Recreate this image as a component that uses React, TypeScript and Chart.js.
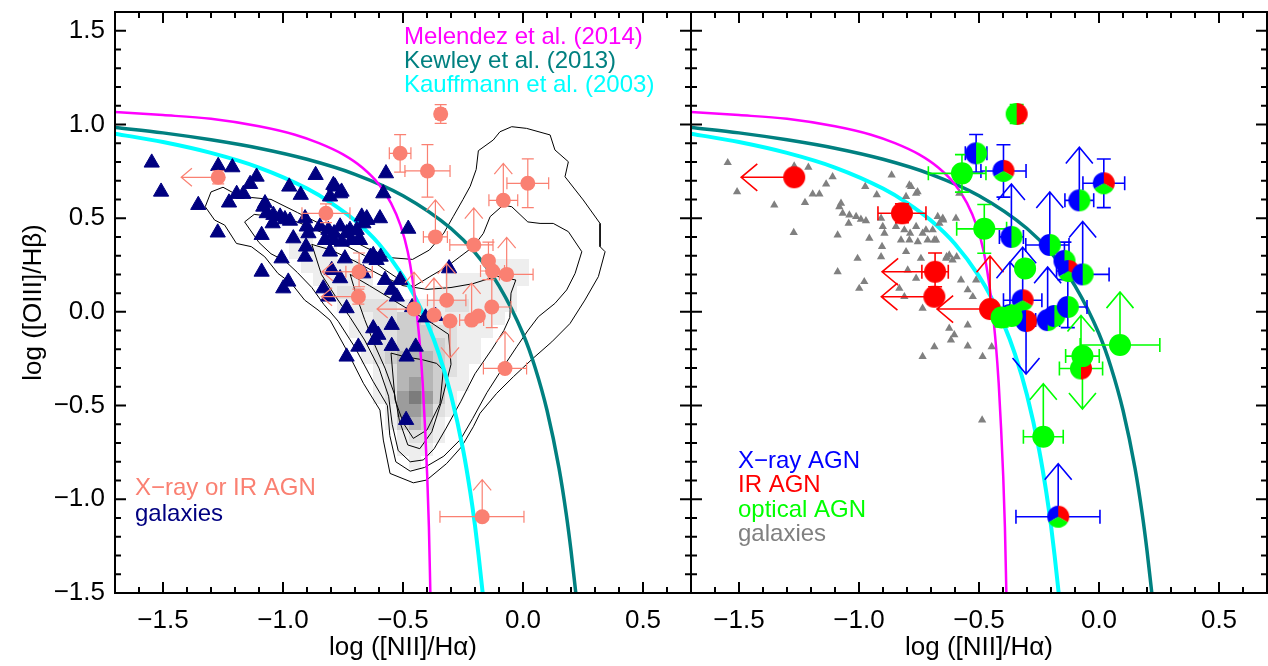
import { useEffect, useRef } from "react";
import { Chart, registerables } from "chart.js";

Chart.register(...registerables);

const FONT = "'Liberation Sans', Arial, Helvetica, sans-serif";

type Pt = [number, number];

// ---------- axes ----------
const X_MIN = -1.7;
const X_MAX = 0.7;
const Y_MIN = -1.5;
const Y_MAX = 1.6;
const xTickValues = [-1.5, -1.0, -0.5, 0.0, 0.5];
const yTickValues = [-1.5, -1.0, -0.5, 0.0, 0.5, 1.0, 1.5];

// ---------- demarcation curves ----------
const melendez: Pt[] = [
  [-1.7, 1.066], [-1.5, 1.05], [-1.3, 1.03], [-1.1, 0.99], [-0.95, 0.945], [-0.85, 0.9],
  [-0.75, 0.84], [-0.67, 0.77], [-0.6, 0.68], [-0.55, 0.58], [-0.51, 0.46], [-0.48, 0.32],
  [-0.46, 0.17], [-0.445, 0.02], [-0.43, -0.17], [-0.418, -0.38], [-0.408, -0.62],
  [-0.399, -0.88], [-0.392, -1.15], [-0.386, -1.5],
];
const kewley: Pt[] = [
  [-1.7, 0.984], [-1.5, 0.955], [-1.3, 0.918], [-1.1, 0.873], [-0.9, 0.814], [-0.7, 0.734],
  [-0.5, 0.62], [-0.3, 0.445], [-0.2, 0.316], [-0.1, 0.139], [0.0, -0.117], [0.05, -0.295],
  [0.1, -0.525], [0.15, -0.834], [0.18, -1.077], [0.2, -1.273], [0.22, -1.5],
];
const kauffmann: Pt[] = [
  [-1.7, 0.951], [-1.5, 0.906], [-1.3, 0.848], [-1.1, 0.77], [-0.9, 0.658], [-0.8, 0.582],
  [-0.7, 0.487], [-0.6, 0.362], [-0.5, 0.191], [-0.45, 0.08], [-0.4, -0.056], [-0.35, -0.225],
  [-0.3, -0.443], [-0.25, -0.733], [-0.22, -0.959], [-0.2, -1.14], [-0.185, -1.3], [-0.168, -1.5],
];

// ---------- galaxies ----------
const galaxies: Pt[] = [
  [-1.547, 0.796], [-1.508, 0.641], [-1.353, 0.57], [-1.272, 0.423], [-1.27, 0.778], [-1.211, 0.771],
  [-1.225, 0.583], [-1.193, 0.629], [-1.165, 0.629], [-1.137, 0.682], [-1.11, 0.721], [-1.089, 0.41],
  [-1.089, 0.214], [-1.082, 0.561], [-1.075, 0.579], [-1.068, 0.526], [-1.04, 0.517], [-1.043, 0.472],
  [-1.012, 0.508], [-0.992, 0.494], [-0.971, 0.486], [-1.006, 0.285], [-0.999, 0.125], [-0.978, 0.161],
  [-0.974, 0.668], [-0.957, 0.392], [-0.926, 0.624], [-0.908, 0.499], [-0.904, 0.348], [-0.908, 0.294],
  [-0.894, 0.419], [-0.901, 0.455], [-0.864, 0.73], [-0.846, 0.455], [-0.832, 0.125], [-0.811, 0.081],
  [-0.825, 0.383], [-0.811, 0.437], [-0.804, 0.615], [-0.79, 0.677], [-0.804, 0.321], [-0.79, 0.383],
  [-0.787, 0.419], [-0.762, 0.632], [-0.762, 0.455], [-0.755, 0.374], [-0.735, 0.419], [-0.742, 0.285],
  [-0.735, 0.019], [-0.714, 0.383], [-0.693, 0.437], [-0.686, 0.383], [-0.672, 0.508], [-0.651, 0.499],
  [-0.665, 0.472], [-0.637, 0.285], [-0.624, 0.303], [-0.61, 0.276], [-0.596, 0.499], [-0.593, 0.294],
  [-0.575, 0.17], [-0.547, 0.117], [-0.526, 0.081], [-0.624, -0.088], [-0.603, -0.123], [-0.617, -0.15],
  [-0.547, -0.07], [-0.547, -0.182], [-0.686, -0.186], [-0.735, -0.239], [-0.485, -0.239], [-0.762, 0.179],
  [-0.797, 0.223], [-0.512, 0.17], [-0.582, 0.632], [-0.447, -0.186], [-0.487, -0.577], [-0.649, 0.49],
  [-0.635, 0.294], [-0.462, 0.025], [-0.783, 0.668], [-0.756, 0.641], [-0.721, 0.437], [-0.679, 0.383],
  [-0.665, 0.205], [-0.571, 0.739], [-0.478, 0.443], [-0.308, 0.232], [-0.406, -0.03], [-0.364, -0.022],
];

// ---------- X-ray / IR AGN ----------
const agnX = [-1.27, -0.821, -0.683, -0.686, -0.454, -0.343, -0.512, -0.398, 0.02, -0.082, -0.365, -0.205, -0.144, -0.127, -0.068, -0.318, -0.371, -0.304, -0.214, -0.186, -0.13, -0.075, -0.17];
const agnY = [0.718, 0.526, 0.214, 0.081, 0.015, 1.056, 0.846, 0.752, 0.686, 0.595, 0.4, 0.357, 0.272, 0.218, 0.2, 0.062, -0.017, -0.049, -0.044, -0.022, 0.026, -0.302, -1.093];
const agnExLo = [0, 0.1, 0.055, 0, 0, 0.02, 0.045, 0.094, 0.087, 0.06, 0.05, 0.1, 0, 0.05, 0.03, 0.08, 0, 0, 0.05, 0, 0, 0.09, 0.176];
const agnExHi = [0, 0.1, 0.055, 0, 0, 0.02, 0.045, 0.094, 0.087, 0.06, 0.05, 0.08, 0, 0.05, 0.11, 0.08, 0, 0, 0.05, 0, 0.08, 0.09, 0.174];
const agnEyLo = [0.035, 0.05, 0.08, 0.04, 0, 0.05, 0.1, 0.14, 0.13, 0, 0, 0, 0.1, 0, 0, 0, 0, 0, 0, 0, 0.11, 0, 0];
const agnEyHi = [0.035, 0.05, 0.1, 0.04, 0, 0.05, 0.1, 0.14, 0.13, 0, 0, 0, 0.1, 0, 0, 0, 0, 0, 0, 0, 0.19, 0, 0];
const agnLimit = ["L", "", "L", "L", "LU", "", "", "", "", "U", "U", "U", "", "", "U", "U", "U", "D", "U", "", "", "U", "U"];
const agnClass = ["R", "R", "R", "R", "R", "GR", "XG", "XRG", "XRG", "XG", "XG", "XG", "XG", "XRG", "XG", "XRG", "XG", "XR", "XG", "XG", "XG", "RG", "XRG"];

// ---------- optical-only AGN ----------
const optX = [-0.571, -0.478, -0.308, -0.406, -0.364, 0.0875, -0.069, -0.232];
const optY = [0.739, 0.443, 0.232, -0.03, -0.022, -0.177, -0.236, -0.666];
const optExLo = [0.14, 0.115, 0, 0, 0, 0.166, 0.07, 0.083];
const optExHi = [0.1, 0.093, 0, 0, 0, 0.166, 0.07, 0.083];
const optEyLo = [0.1, 0.13, 0, 0.05, 0, 0, 0, 0];
const optEyHi = [0.1, 0.13, 0, 0.05, 0, 0, 0, 0];
const optLimit = ["", "", "", "", "", "U", "D", "U"];

// ---------- SDSS density contours ----------
const contour1: Pt[] = [
  [-1.324, 0.561], [-1.3, 0.64], [-1.25, 0.665], [-1.2, 0.63], [-1.13, 0.61], [-1.05, 0.6], [-0.94, 0.53],
  [-0.83, 0.46], [-0.74, 0.4], [-0.65, 0.34], [-0.56, 0.29], [-0.46, 0.28], [-0.39, 0.33], [-0.33, 0.42],
  [-0.29, 0.51], [-0.25, 0.6], [-0.22, 0.67], [-0.195, 0.76], [-0.186, 0.86], [-0.124, 0.917], [-0.096, 0.961],
  [-0.047, 0.988], [0.015, 0.979], [0.113, 0.944], [0.133, 0.864], [0.189, 0.801], [0.175, 0.721],
  [0.251, 0.597], [0.321, 0.472], [0.321, 0.348], [0.342, 0.321], [0.314, 0.188], [0.258, 0.063],
  [0.196, -0.062], [0.12, -0.16], [0.04, -0.25], [-0.04, -0.346], [-0.11, -0.435], [-0.179, -0.541],
  [-0.207, -0.613], [-0.256, -0.72], [-0.318, -0.809], [-0.401, -0.897], [-0.457, -0.912], [-0.554, -0.862],
  [-0.582, -0.684], [-0.596, -0.524], [-0.665, -0.381], [-0.735, -0.204], [-0.804, -0.044], [-0.854, 0.01],
  [-0.91, 0.063], [-0.965, 0.152], [-1.021, 0.205], [-1.076, 0.294], [-1.132, 0.348], [-1.194, 0.365],
  [-1.243, 0.463], [-1.285, 0.49], [-1.324, 0.561],
];
const contour2: Pt[] = [
  [-1.16, 0.48], [-1.12, 0.52], [-1.05, 0.51], [-0.94, 0.48], [-0.85, 0.43], [-0.76, 0.37], [-0.66, 0.3],
  [-0.57, 0.22], [-0.5, 0.16], [-0.457, 0.134], [-0.388, 0.188], [-0.318, 0.241], [-0.263, 0.294],
  [-0.207, 0.348], [-0.165, 0.419], [-0.137, 0.508], [-0.082, 0.57], [-0.047, 0.561], [0.02, 0.48],
  [0.071, 0.472], [0.126, 0.472], [0.189, 0.428], [0.245, 0.321], [0.217, 0.205], [0.182, 0.117],
  [0.133, 0.045], [0.064, -0.026], [0.022, -0.097], [-0.026, -0.186], [-0.08, -0.29], [-0.15, -0.43],
  [-0.21, -0.57], [-0.26, -0.68], [-0.33, -0.77], [-0.41, -0.83], [-0.47, -0.85], [-0.53, -0.8],
  [-0.555, -0.66], [-0.565, -0.5], [-0.625, -0.37], [-0.7, -0.19], [-0.77, -0.05], [-0.83, 0.04],
  [-0.88, 0.13], [-0.94, 0.21], [-0.99, 0.27], [-1.05, 0.31], [-1.1, 0.37], [-1.16, 0.48],
];
const contour3: Pt[] = [
  [-0.88, 0.36], [-0.8, 0.33], [-0.7, 0.27], [-0.6, 0.2], [-0.5, 0.14], [-0.4, 0.12], [-0.3, 0.13],
  [-0.21, 0.15], [-0.11, 0.19], [-0.03, 0.17], [-0.05, 0.1], [-0.055, -0.03], [-0.08, -0.1], [-0.13, -0.2],
  [-0.2, -0.33], [-0.26, -0.48], [-0.32, -0.62], [-0.37, -0.73], [-0.415, -0.79], [-0.47, -0.8],
  [-0.52, -0.74], [-0.545, -0.6], [-0.56, -0.45], [-0.6, -0.3], [-0.66, -0.15], [-0.72, -0.03],
  [-0.78, 0.08], [-0.84, 0.2], [-0.88, 0.36],
];
const contour4: Pt[] = [
  [-0.72, 0.2], [-0.64, 0.14], [-0.55, 0.07], [-0.46, 0.0], [-0.38, -0.06], [-0.31, -0.12], [-0.3, -0.28],
  [-0.34, -0.48], [-0.38, -0.64], [-0.43, -0.73], [-0.48, -0.71], [-0.515, -0.58], [-0.535, -0.44],
  [-0.575, -0.3], [-0.62, -0.17], [-0.66, -0.04], [-0.69, 0.07], [-0.72, 0.2],
];
const contour5: Pt[] = [
  [-0.55, -0.22], [-0.49, -0.24], [-0.42, -0.255], [-0.36, -0.275], [-0.332, -0.31], [-0.346, -0.49],
  [-0.4, -0.63], [-0.457, -0.675], [-0.498, -0.595], [-0.533, -0.47], [-0.55, -0.22],
];

// ---------- SDSS 2D histogram (bin centres, levels 0-6) ----------
const histX = [-1.0, -0.95, -0.9, -0.85, -0.8, -0.75, -0.7, -0.65, -0.6, -0.55, -0.5, -0.45, -0.4, -0.35, -0.3, -0.25, -0.2, -0.15, -0.1, -0.05, 0.0, 0.05];
const histY = [0.385, 0.315, 0.245, 0.175, 0.105, 0.035, -0.035, -0.105, -0.175, -0.245, -0.315, -0.385, -0.455, -0.525, -0.595, -0.665, -0.735, -0.805];
const histLevels = [
  "0110000000000000000000",
  "0111100000000000000000",
  "0011111000000000001110",
  "0001111100000011111110",
  "0000122111000111111100",
  "0000011222111122111100",
  "0000001122332111111000",
  "0000001122333221110000",
  "0000000122333321100000",
  "0000000123444321100000",
  "0000000012444321000000",
  "0000000012454311000000",
  "0000000012565310000000",
  "0000000001554210000000",
  "0000000001343100000000",
  "0000000000122100000000",
  "0000000000111000000000",
  "0000000000010000000000",
];
const HIST_DX = 0.05;
const HIST_DY = 0.07;
const HIST_COLORS = ["", "#eeeeee", "#e0e0e0", "#cecece", "#b6b6b6", "#9c9c9c", "#7c7c7c"];

// ---------- colours ----------
const SALMON = "#FA8072";
const NAVY = "#000080";
const MAGENTA = "#FF00FF";
const TEAL = "#008080";
const CYAN = "#00FFFF";
const BLUE = "#0000FF";
const RED = "#FF0000";
const GREEN = "#00FF00";
const GREY = "#808080";

const toXY = (a: Pt[]) => a.map(([x, y]) => ({ x, y }));
const zipXY = (xs: number[], ys: number[]) => xs.map((x, i) => ({ x, y: ys[i] }));

function fmt(v: number): string {
  const a = Math.abs(v) < 1e-9 ? 0 : v;
  return a.toFixed(1).replace("-", "\u2212");
}

function lineDs(data: Pt[], color: string, width: number, smooth: boolean) {
  return {
    data: toXY(data),
    showLine: true,
    borderColor: color,
    backgroundColor: color,
    borderWidth: width,
    pointRadius: 0,
    fill: false,
    tension: 0,
    cubicInterpolationMode: smooth ? "monotone" : "default",
  };
}

function curveSets() {
  return [lineDs(melendez, MAGENTA, 2.5, true), lineDs(kewley, TEAL, 3.5, true), lineDs(kauffmann, CYAN, 4, true)];
}

const zeroPad = (s: any) => {
  s.paddingTop = 0;
  s.paddingBottom = 0;
  s.paddingLeft = 0;
  s.paddingRight = 0;
};

function buildScales(showY: boolean) {
  const tickFont = { size: 26, family: FONT };
  const x: any = {
    type: "linear",
    min: X_MIN,
    max: X_MAX,
    grid: { display: false, drawTicks: false },
    border: { display: false },
    afterBuildTicks: (s: any) => {
      s.ticks = xTickValues.map((v) => ({ value: v }));
    },
    afterFit: (s: any) => {
      s.height = 73;
      zeroPad(s);
    },
    ticks: { autoSkip: false, maxRotation: 0, padding: 12, color: "#000", font: tickFont, callback: (v: any) => fmt(Number(v)) },
    title: { display: true, text: "log ([NII]/H\u03b1)", color: "#000", font: tickFont, padding: { top: 0, bottom: 3 } },
  };
  const y: any = showY
    ? {
        type: "linear",
        min: Y_MIN,
        max: Y_MAX,
        grid: { display: false, drawTicks: false },
        border: { display: false },
        afterBuildTicks: (s: any) => {
          s.ticks = yTickValues.map((v) => ({ value: v }));
        },
        afterFit: (s: any) => {
          s.width = 115;
          zeroPad(s);
        },
        ticks: { autoSkip: false, padding: 10, color: "#000", font: tickFont, callback: (v: any) => fmt(Number(v)) },
        title: { display: true, text: "log ([OIII]/H\u03b2)", color: "#000", font: tickFont, padding: { top: 18, bottom: 0 } },
      }
    : { type: "linear", min: Y_MIN, max: Y_MAX, display: false, afterFit: zeroPad };
  return { x, y };
}

const framePlugin = {
  id: "frame",
  afterDraw(chart: any) {
    const { ctx, chartArea, scales } = chart;
    const { left, right, top, bottom } = chartArea;
    const xs = scales.x;
    const ys = scales.y;
    ctx.save();
    ctx.strokeStyle = "#000";
    ctx.lineWidth = 2;
    ctx.beginPath();
    for (let i = -17; i <= 7; i++) {
      const px = xs.getPixelForValue(i / 10);
      const len = i % 5 === 0 ? 11 : 6;
      ctx.moveTo(px, bottom);
      ctx.lineTo(px, bottom - len);
      ctx.moveTo(px, top);
      ctx.lineTo(px, top + len);
    }
    for (let i = -15; i <= 16; i++) {
      const py = ys.getPixelForValue(i / 10);
      const len = i % 5 === 0 ? 11 : 6;
      ctx.moveTo(left, py);
      ctx.lineTo(left + len, py);
      ctx.moveTo(right, py);
      ctx.lineTo(right - len, py);
    }
    ctx.stroke();
    ctx.strokeRect(left, top, right - left, bottom - top);
    ctx.restore();
  },
};

const histPlugin = {
  id: "hist",
  beforeDatasetsDraw(chart: any) {
    const { ctx, chartArea, scales } = chart;
    const xs = scales.x;
    const ys = scales.y;
    ctx.save();
    ctx.beginPath();
    ctx.rect(chartArea.left, chartArea.top, chartArea.right - chartArea.left, chartArea.bottom - chartArea.top);
    ctx.clip();
    histLevels.forEach((row, r) => {
      for (let c = 0; c < row.length; c++) {
        const lvl = Number(row[c]);
        if (!lvl) continue;
        const x0 = Math.round(xs.getPixelForValue(histX[c] - HIST_DX / 2));
        const x1 = Math.round(xs.getPixelForValue(histX[c] + HIST_DX / 2));
        const y0 = Math.round(ys.getPixelForValue(histY[r] + HIST_DY / 2));
        const y1 = Math.round(ys.getPixelForValue(histY[r] - HIST_DY / 2));
        ctx.fillStyle = HIST_COLORS[lvl];
        ctx.fillRect(x0, y0, x1 - x0, y1 - y0);
      }
    });
    ctx.restore();
  },
};

type ErrSet = {
  x: number[];
  y: number[];
  exLo: number[];
  exHi: number[];
  eyLo: number[];
  eyHi: number[];
  lim: string[];
  color: (i: number) => string;
};

type ErrStyle = { lw: number; cap: number; len: number; head: number };

function drawArrow(ctx: CanvasRenderingContext2D, px: number, py: number, dir: string, st: ErrStyle) {
  const a = (40 * Math.PI) / 180;
  const hx = st.head * Math.cos(a);
  const hy = st.head * Math.sin(a);
  ctx.beginPath();
  if (dir === "L") {
    const tx = px - st.len;
    ctx.moveTo(px, py);
    ctx.lineTo(tx, py);
    ctx.moveTo(tx + hx, py - hy);
    ctx.lineTo(tx, py);
    ctx.lineTo(tx + hx, py + hy);
  } else if (dir === "U") {
    const ty = py - st.len;
    ctx.moveTo(px, py);
    ctx.lineTo(px, ty);
    ctx.moveTo(px - hy, ty + hx);
    ctx.lineTo(px, ty);
    ctx.lineTo(px + hy, ty + hx);
  } else if (dir === "D") {
    const ty = py + st.len;
    ctx.moveTo(px, py);
    ctx.lineTo(px, ty);
    ctx.moveTo(px - hy, ty - hx);
    ctx.lineTo(px, ty);
    ctx.lineTo(px + hy, ty - hx);
  }
  ctx.stroke();
}

function errorPlugin(afterIndex: number, sets: ErrSet[], st: ErrStyle) {
  return {
    id: "errs",
    afterDatasetDraw(chart: any, args: any) {
      if (args.index !== afterIndex) return;
      const { ctx, chartArea, scales } = chart;
      const xs = scales.x;
      const ys = scales.y;
      ctx.save();
      ctx.beginPath();
      ctx.rect(chartArea.left, chartArea.top, chartArea.right - chartArea.left, chartArea.bottom - chartArea.top);
      ctx.clip();
      ctx.lineWidth = st.lw;
      for (const s of sets) {
        for (let i = 0; i < s.x.length; i++) {
          const px = xs.getPixelForValue(s.x[i]);
          const py = ys.getPixelForValue(s.y[i]);
          ctx.strokeStyle = s.color(i);
          ctx.beginPath();
          if (s.exLo[i] || s.exHi[i]) {
            const x0 = xs.getPixelForValue(s.x[i] - s.exLo[i]);
            const x1 = xs.getPixelForValue(s.x[i] + s.exHi[i]);
            ctx.moveTo(x0, py);
            ctx.lineTo(x1, py);
            if (s.exLo[i]) {
              ctx.moveTo(x0, py - st.cap);
              ctx.lineTo(x0, py + st.cap);
            }
            if (s.exHi[i]) {
              ctx.moveTo(x1, py - st.cap);
              ctx.lineTo(x1, py + st.cap);
            }
          }
          if (s.eyLo[i] || s.eyHi[i]) {
            const y0 = ys.getPixelForValue(s.y[i] - s.eyLo[i]);
            const y1 = ys.getPixelForValue(s.y[i] + s.eyHi[i]);
            ctx.moveTo(px, y0);
            ctx.lineTo(px, y1);
            if (s.eyLo[i]) {
              ctx.moveTo(px - st.cap, y0);
              ctx.lineTo(px + st.cap, y0);
            }
            if (s.eyHi[i]) {
              ctx.moveTo(px - st.cap, y1);
              ctx.lineTo(px + st.cap, y1);
            }
          }
          ctx.stroke();
          for (const d of s.lim[i]) drawArrow(ctx, px, py, d, st);
        }
      }
      ctx.restore();
    },
  };
}

type TextItem = { t: string; c: string; x: number; y: number };

function textPlugin(items: TextItem[], size: number) {
  return {
    id: "texts",
    afterDraw(chart: any) {
      const ctx = chart.ctx;
      ctx.save();
      ctx.font = `${size}px ${FONT}`;
      ctx.textAlign = "left";
      ctx.textBaseline = "middle";
      for (const it of items) {
        ctx.fillStyle = it.c;
        ctx.fillText(it.t, it.x, it.y);
      }
      ctx.restore();
    },
  };
}

function classColors(cls: string): string[] {
  const out: string[] = [];
  if (cls.includes("X")) out.push(BLUE);
  if (cls.length === 3) {
    out.push(RED, GREEN);
    return out;
  }
  if (cls.includes("G")) out.push(GREEN);
  if (cls.includes("R")) out.push(RED);
  return out;
}

function errColor(cls: string): string {
  if (cls.includes("X")) return BLUE;
  if (cls.includes("G")) return GREEN;
  return RED;
}

function pieImage(cls: string, r: number): HTMLCanvasElement {
  const size = Math.ceil(r * 2 + 2);
  const cv = document.createElement("canvas");
  cv.width = size;
  cv.height = size;
  const g = cv.getContext("2d")!;
  const c = size / 2;
  const cols = classColors(cls);
  const wedge = (a0: number, a1: number, col: string) => {
    g.beginPath();
    g.moveTo(c, c);
    g.arc(c, c, r, a0, a1);
    g.closePath();
    g.fillStyle = col;
    g.fill();
  };
  const d = Math.PI / 180;
  if (cols.length === 1) wedge(0, 2 * Math.PI, cols[0]);
  else if (cols.length === 2) {
    wedge(90 * d, 270 * d, cols[0]);
    wedge(-90 * d, 90 * d, cols[1]);
  } else {
    wedge(150 * d, 270 * d, cols[0]);
    wedge(270 * d, 390 * d, cols[1]);
    wedge(30 * d, 150 * d, cols[2]);
  }
  return cv;
}

const agnErrSet = (colorFn: (i: number) => string): ErrSet => ({
  x: agnX,
  y: agnY,
  exLo: agnExLo,
  exHi: agnExHi,
  eyLo: agnEyLo,
  eyHi: agnEyHi,
  lim: agnLimit,
  color: colorFn,
});

function leftConfig(): any {
  return {
    type: "scatter",
    data: {
      datasets: [
        { data: zipXY(agnX, agnY), pointStyle: "circle", pointRadius: 7.5, backgroundColor: SALMON, borderWidth: 0 },
        { data: toXY(galaxies), pointStyle: "triangle", pointRadius: 8.8, backgroundColor: NAVY, borderColor: NAVY, borderWidth: 1 },
        ...curveSets(),
        ...[contour1, contour2, contour3, contour4, contour5].map((c) => lineDs(c, "#000", 1, false)),
      ],
    },
    options: {
      responsive: false,
      animation: false,
      events: [],
      layout: { autoPadding: false, padding: { top: 12, right: 9, left: 0, bottom: 0 } },
      plugins: { legend: { display: false }, tooltip: { enabled: false } },
      scales: buildScales(true),
    },
    plugins: [
      histPlugin,
      errorPlugin(1, [agnErrSet(() => SALMON)], { lw: 1.2, cap: 6, len: 37, head: 14 }),
      framePlugin,
      textPlugin(
        [
          { t: "Melendez et al. (2014)", c: MAGENTA, x: 404, y: 37 },
          { t: "Kewley et al. (2013)", c: TEAL, x: 404, y: 61 },
          { t: "Kauffmann et al. (2003)", c: CYAN, x: 404, y: 85 },
          { t: "X\u2212ray or IR AGN", c: SALMON, x: 135, y: 488 },
          { t: "galaxies", c: NAVY, x: 135, y: 514 },
        ],
        24
      ),
    ],
  };
}

function rightConfig(): any {
  const pies = agnClass.map((c) => pieImage(c, 11));
  return {
    type: "scatter",
    data: {
      datasets: [
        { data: zipXY(optX, optY), pointStyle: "circle", pointRadius: 11, backgroundColor: GREEN, borderWidth: 0 },
        { data: zipXY(agnX, agnY), pointStyle: (c: any) => pies[c.dataIndex], pointRadius: 11, borderWidth: 0 },
        { data: toXY(galaxies), pointStyle: "triangle", pointRadius: 4.8, backgroundColor: GREY, borderColor: GREY, borderWidth: 0 },
        ...curveSets(),
      ],
    },
    options: {
      responsive: false,
      animation: false,
      events: [],
      layout: { autoPadding: false, padding: { top: 12, right: 1, left: 11, bottom: 0 } },
      plugins: { legend: { display: false }, tooltip: { enabled: false } },
      scales: buildScales(false),
    },
    plugins: [
      errorPlugin(
        2,
        [
          agnErrSet((i) => errColor(agnClass[i])),
          { x: optX, y: optY, exLo: optExLo, exHi: optExHi, eyLo: optEyLo, eyHi: optEyHi, lim: optLimit, color: () => GREEN },
        ],
        { lw: 1.6, cap: 7, len: 53, head: 21 }
      ),
      framePlugin,
      textPlugin(
        [
          { t: "X\u2212ray AGN", c: BLUE, x: 58, y: 461 },
          { t: "IR AGN", c: RED, x: 58, y: 485 },
          { t: "optical AGN", c: GREEN, x: 58, y: 510 },
          { t: "galaxies", c: GREY, x: 58, y: 534 },
        ],
        24
      ),
    ],
  };
}

export default function App() {
  const leftRef = useRef<HTMLCanvasElement>(null);
  const rightRef = useRef<HTMLCanvasElement>(null);
  useEffect(() => {
    Chart.defaults.font.family = FONT;
    const c1 = new Chart(leftRef.current!, leftConfig());
    const c2 = new Chart(rightRef.current!, rightConfig());
    return () => {
      c1.destroy();
      c2.destroy();
    };
  }, []);
  return (
    <div style={{ position: "absolute", left: 0, top: 0, width: 1268, height: 666, background: "#fff", overflow: "hidden" }}>
      <canvas ref={leftRef} width={700} height={666} style={{ position: "absolute", left: 0, top: 0 }} />
      <canvas ref={rightRef} width={588} height={666} style={{ position: "absolute", left: 680, top: 0 }} />
    </div>
  );
}
